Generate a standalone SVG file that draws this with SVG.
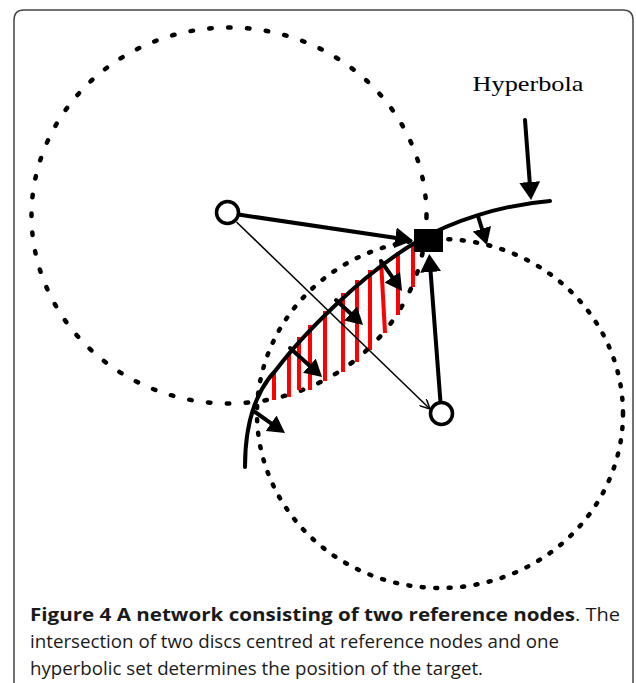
<svg xmlns="http://www.w3.org/2000/svg" width="636" height="683" viewBox="0 0 636 683">
<style>
.dot1{fill:none;stroke:#000;stroke-width:4.5;stroke-linecap:round;stroke-dasharray:2.5 16.4}
.dot2{fill:none;stroke:#000;stroke-width:4.5;stroke-linecap:round;stroke-dasharray:2 11.5}
.hatch{stroke:#f00;stroke-width:4;stroke-linecap:butt}
.thick{fill:none;stroke:#000;stroke-width:4;stroke-linecap:round}
.node{fill:#fff;stroke:#000;stroke-width:3.5}
.cap{font-family:"Open Sans","Noto Sans",sans-serif;font-size:18.5px;fill:#1a1a1a}
</style>
<defs>
<marker id="big" viewBox="0 0 18 21" refX="8" refY="10.5" markerWidth="18" markerHeight="21" markerUnits="userSpaceOnUse" orient="auto"><path d="M0,0 L18,10.5 L0,21 z" fill="#000"/></marker>
<marker id="small" viewBox="0 0 17 19" refX="7" refY="9.5" markerWidth="17" markerHeight="19" markerUnits="userSpaceOnUse" orient="auto"><path d="M0,0 L17,9.5 L0,19 z" fill="#000"/></marker>
<marker id="open" viewBox="0 0 10 10" refX="10" refY="5" markerWidth="10" markerHeight="10" markerUnits="userSpaceOnUse" orient="auto"><path d="M0,0 L10,5 L0,10" fill="none" stroke="#000" stroke-width="1.5"/></marker>
</defs>
<rect width="636" height="683" fill="#fff"/>
<path id="frame" d="M14,683 L14,20 Q14,10 24,10 L623,10 Q633,10 633,20 L633,683" fill="none" stroke="#444" stroke-width="1.5"/>

<g id="discs">
<ellipse id="disc-left" class="dot1" cx="229" cy="215.5" rx="197.5" ry="188"/>
<ellipse id="disc-right" class="dot2" cx="440" cy="413.5" rx="183" ry="174.5"/>
</g>

<g id="hatching">
<line class="hatch" x1="274" y1="373" x2="274" y2="400"/>
<line class="hatch" x1="289" y1="353" x2="289" y2="397"/>
<line class="hatch" x1="299" y1="337" x2="299" y2="390"/>
<line class="hatch" x1="310" y1="325" x2="310" y2="390"/>
<line class="hatch" x1="325" y1="311" x2="325" y2="381"/>
<line class="hatch" x1="343" y1="293" x2="343" y2="372"/>
<line class="hatch" x1="357" y1="280" x2="357" y2="362"/>
<line class="hatch" x1="370" y1="270" x2="370" y2="350"/>
<line class="hatch" x1="381" y1="260" x2="385" y2="333"/>
<line class="hatch" x1="398" y1="252" x2="398" y2="315"/>
<line class="hatch" x1="413" y1="242" x2="413" y2="287"/>
</g>

<path id="hyperbola" class="thick" d="M245,467 C245,430 252,395 276,370 C300,338 360,275 418,241 C450,222 500,205 550,201"/>

<g id="connectors">
<line x1="236.5" y1="222" x2="430" y2="409" stroke="#000" stroke-width="1.5" marker-end="url(#open)"/>
<line class="thick" x1="240" y1="214.8" x2="403.1" y2="239" marker-end="url(#big)"/>
<line class="thick" x1="440.4" y1="401" x2="430" y2="264" marker-end="url(#big)"/>
<line class="thick" x1="525" y1="120" x2="530.3" y2="190" marker-end="url(#big)"/>
<line class="thick" x1="381" y1="261" x2="396.3" y2="282.8" marker-end="url(#small)"/>
<line class="thick" x1="336" y1="300" x2="355.7" y2="318.2" marker-end="url(#small)"/>
<line class="thick" x1="290" y1="348" x2="314.6" y2="370.3" marker-end="url(#small)"/>
<line class="thick" x1="255" y1="412" x2="276.8" y2="427.3" marker-end="url(#small)"/>
<line class="thick" x1="478" y1="216" x2="484" y2="235.5" marker-end="url(#small)"/>
</g>

<g id="node-ref1"><circle class="node" cx="227.5" cy="212.5" r="11"/></g>
<g id="node-ref2"><circle class="node" cx="441.5" cy="413.5" r="11"/></g>
<g id="node-target"><rect x="414" y="229" width="29" height="23" fill="#000"/></g>

<g id="label-hyperbola"><text x="472.5" y="91" font-family="'Liberation Serif',serif" font-size="22" textLength="111" lengthAdjust="spacingAndGlyphs" fill="#000">Hyperbola</text></g>

<g id="caption">
<text class="cap" x="30" y="621" font-weight="bold" textLength="545" lengthAdjust="spacingAndGlyphs">Figure 4 A network consisting of two reference nodes</text>
<text class="cap" x="575" y="621" textLength="45" lengthAdjust="spacingAndGlyphs">. The</text>
<text class="cap" x="30" y="648" textLength="529" lengthAdjust="spacingAndGlyphs">intersection of two discs centred at reference nodes and one</text>
<text class="cap" x="30" y="675" textLength="453" lengthAdjust="spacingAndGlyphs">hyperbolic set determines the position of the target.</text>
</g>
</svg>
